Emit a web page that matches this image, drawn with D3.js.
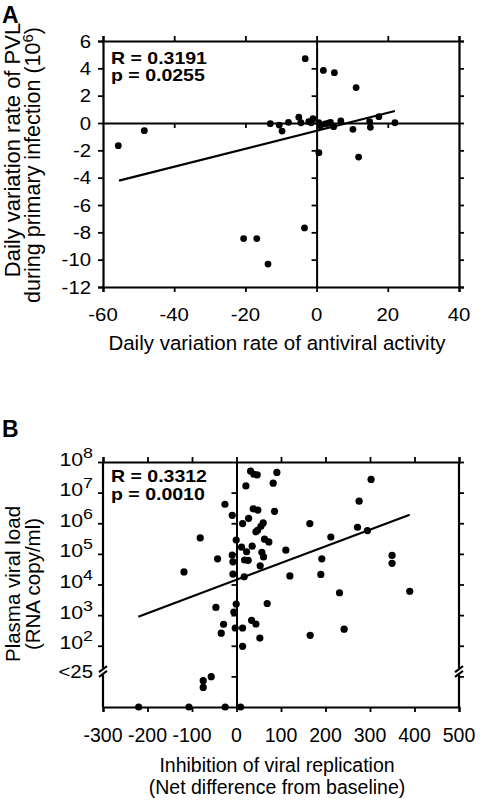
<!DOCTYPE html>
<html><head><meta charset="utf-8">
<script src="https://cdn.jsdelivr.net/npm/d3@7"></script>
<style>
body{margin:0;background:#fff}
svg{display:block}
text{font-family:"Liberation Sans",Arial,Helvetica,sans-serif;fill:#000}
</style></head>
<body><svg id="c" width="480" height="801"></svg>
<script>
// ---------- Panel A data ----------
const aXTicks = [-60, -40, -20, 0, 20, 40];
const aYTicks = [-12, -10, -8, -6, -4, -2, 0, 2, 4, 6];
const aX = [-55.7, -48.4, -3.2, 1.9, 5.0, 11.1, 0.65, 11.8, 17.5, 22.0, 10.2, 15.1,
  -13.0, -10.5, -9.7, -7.9, -5.0, -4.4, -2.2, -1.0, -1.5, 0.6, 1.1, 2.4, 3.3, 3.9, 4.8, 6.8, 14.9,
  -20.5, -16.8, -13.65, -3.4];
const aY = [-1.66, -0.56, 4.71, 3.85, 3.68, 2.59, -2.17, -2.49, 0.46, 0.02, -0.46, -0.32,
  -0.05, -0.15, -0.59, 0.05, 0.42, 0.02, 0.10, 0.32, 0.02, 0.02, -0.20, -0.07, -0.02, 0.05, -0.27, 0.15, 0.10,
  -8.46, -8.46, -10.32, -7.68];
const aFitX = [-55.5, 22.0];
const aFitY = [-4.22, 0.88];
const aStats = ["R = 0.3191", "p = 0.0255"];

// ---------- Panel B data ----------
const bXTicks = [-300, -200, -100, 0, 100, 200, 300, 400, 500];
// y = log10(RNA copies/ml); values below 2 sit in the "<25" band
const bYTicks = [2, 3, 4, 5, 6, 7, 8];
const bYLabelsExp = ["2", "3", "4", "5", "6", "7", "8"];
const bX = [31.7, 39, 46.5, 90.7, 82.4, 21.1, 302.4, -26, -9.6, 37.5, 48, 85.5, 275.5, 27.2,
  13.7, 60, 54.8, 47.4, 43.6, 164.8, 271.9, 294.3, -81.5, -0.7, 63, 72.7, 212, 11.4, 35.3,
  110.9, 22.7, 57, 60.8, -9.6, 18.2, 26.3, -42.5, 191.7, 349.6, 349.6, 53.2, -8, -8, 17.3,
  119.9, 189.5, -118, 231.5, 389.3, -46.3, -0.7, 69, -5.8, -29, -34.3, -2.9, 13.7, 33.9,
  43.6, 13.7, 52.5, 165.5, 241.8, -56.8, -74.8, -74.8, -219.8, -106.9, -25.4, 9.2];
const bY = [7.70, 7.60, 7.58, 7.66, 7.31, 7.22, 7.43, 6.62, 6.26, 6.47, 6.43, 6.39, 6.72, 6.16,
  5.99, 6.01, 5.90, 5.77, 5.72, 5.99, 5.87, 5.76, 5.52, 5.45, 5.48, 5.39, 5.55, 5.22, 5.25,
  5.12, 5.07, 5.05, 4.90, 4.96, 4.80, 4.79, 4.84, 4.84, 4.95, 4.69, 4.61, 4.74, 4.34, 4.25,
  4.28, 4.33, 4.41, 3.73, 3.78, 3.25, 3.36, 3.38, 3.10, 2.70, 2.41, 2.58, 2.58, 2.83,
  2.71, 1.98, 2.25, 2.34, 2.54, 0.99, 0.86, 0.64, 0, 0, 0, 0];
const bFitX = [-220.7, 389.3];
const bFitY = [2.95, 6.28];
const bStats = ["R = 0.3312", "p = 0.0010"];

// ---------- drawing ----------
const svg = d3.select("#c");
svg.append("rect").attr("width", 480).attr("height", 801).attr("fill", "#fff");

const L = 103, R = 459;
const ax = d3.scaleLinear().domain([-60, 40]).range([L, R]);
const ay = d3.scaleLinear().domain([-12, 6]).range([287, 41]);
const bx = d3.scaleLinear().domain([-300, 500]).range([L, R]);
const by = d3.scaleLinear().domain([0, 8]).range([707, 462]);

function styleAxis(g, domainW) {
  g.selectAll(".domain").attr("stroke", "#000").attr("stroke-width", domainW);
  g.selectAll(".tick line").attr("stroke", "#000").attr("stroke-width", 1.8);
  g.selectAll(".tick text").remove();
}
function stretchText(parent, x, y, str, size, sx, anchor, weight) {
  return parent.append("text")
    .attr("transform", `translate(${x},${y}) scale(${sx},1)`)
    .attr("text-anchor", anchor).attr("font-size", size)
    .attr("font-weight", weight || "normal").text(str);
}

// ===== Panel A =====
const A = svg.append("g");
A.append("g").attr("transform", `translate(${L},0)`)
  .call(d3.axisLeft(ay).tickValues(aYTicks).tickSize(5).tickSizeOuter(5)).call(g => styleAxis(g, 2.2));
A.append("g").attr("transform", `translate(${R},0)`)
  .call(d3.axisRight(ay).tickValues(aYTicks).tickSize(5).tickSizeOuter(5)).call(g => styleAxis(g, 2.2));
A.append("g").attr("transform", `translate(0,${ay(-12)})`)
  .call(d3.axisBottom(ax).tickValues(aXTicks).tickSize(5).tickSizeOuter(5)).call(g => styleAxis(g, 2.2));
A.append("g").attr("transform", `translate(0,${ay(6)})`)
  .call(d3.axisTop(ax).tickValues(aXTicks).tickSize(5).tickSizeOuter(5)).call(g => styleAxis(g, 2.2));
// zero lines
A.append("g").attr("transform", `translate(0,${ay(0)})`)
  .call(d3.axisBottom(ax).tickValues(aXTicks.slice(1, -1).filter(d => d !== 0)).tickSize(5).tickSizeOuter(0))
  .call(g => styleAxis(g, 2));
A.append("g").attr("transform", `translate(${ax(0)},0)`)
  .call(d3.axisLeft(ay).tickValues(aYTicks.slice(1, -1).filter(d => d !== 0)).tickSize(5).tickSizeOuter(0))
  .call(g => styleAxis(g, 2));

aYTicks.forEach(t => stretchText(A, 91, ay(t) + 6.5, String(t), 18.5, 1.1, "end"));
aXTicks.forEach(t => stretchText(A, ax(t), 320.5, String(t), 18.5, 1.1, "middle"));

A.append("line").attr("x1", ax(aFitX[0])).attr("y1", ay(aFitY[0]))
  .attr("x2", ax(aFitX[1])).attr("y2", ay(aFitY[1]))
  .attr("stroke", "#000").attr("stroke-width", 2.2);
A.selectAll("circle").data(aX).join("circle")
  .attr("cx", d => ax(d)).attr("cy", (d, i) => ay(aY[i])).attr("r", 3.4).attr("fill", "#000");

stretchText(A, 111, 63.5, aStats[0], 16, 1.22, "start", "bold");
stretchText(A, 111, 80.5, aStats[1], 16, 1.22, "start", "bold");

A.append("text").attr("x", 2).attr("y", 23).attr("font-size", 23).attr("font-weight", "bold").text("A");
A.append("text").attr("x", 277).attr("y", 350).attr("text-anchor", "middle").attr("font-size", 20.5)
  .text("Daily variation rate of antiviral activity");
A.append("text").attr("transform", "translate(20,150) rotate(-90)").attr("text-anchor", "middle")
  .attr("font-size", 22).text("Daily variation rate of PVL");
const aT2 = A.append("text").attr("transform", "translate(40,165) rotate(-90)").attr("text-anchor", "middle")
  .attr("font-size", 21.5);
aT2.append("tspan").text("during primary infection (10");
aT2.append("tspan").attr("dy", -7).attr("font-size", 15).text("6");
aT2.append("tspan").attr("dy", 7).text(")");

// ===== Panel B =====
const B = svg.append("g");
const brk = [1.05, 1.27]; // axis break band (data units)
function brokenAxisLine(x) {
  B.append("line").attr("x1", x).attr("x2", x).attr("y1", by(0)).attr("y2", by(brk[0]))
    .attr("stroke", "#000").attr("stroke-width", 2.2);
  B.append("line").attr("x1", x).attr("x2", x).attr("y1", by(brk[1])).attr("y2", by(8))
    .attr("stroke", "#000").attr("stroke-width", 2.2);
  [by(brk[0]) - 1, by(brk[1]) + 1].forEach(yy => {
    B.append("line").attr("x1", x - 4).attr("y1", yy + 3).attr("x2", x + 4).attr("y2", yy - 3)
      .attr("stroke", "#000").attr("stroke-width", 2);
  });
}
B.append("g").attr("transform", `translate(${L},0)`)
  .call(d3.axisLeft(by).tickValues(bYTicks).tickSize(5).tickSizeOuter(0))
  .call(g => { styleAxis(g, 0); g.select(".domain").remove(); });
B.append("g").attr("transform", `translate(${R},0)`)
  .call(d3.axisRight(by).tickValues([1].concat(bYTicks)).tickSize(5).tickSizeOuter(0))
  .call(g => { styleAxis(g, 0); g.select(".domain").remove(); });
brokenAxisLine(L);
brokenAxisLine(R);
B.append("g").attr("transform", `translate(0,${by(0)})`)
  .call(d3.axisBottom(bx).tickValues(bXTicks).tickSize(5).tickSizeOuter(5)).call(g => styleAxis(g, 2.2));
B.append("g").attr("transform", `translate(0,${by(8)})`)
  .call(d3.axisTop(bx).tickValues(bXTicks).tickSize(5).tickSizeOuter(5)).call(g => styleAxis(g, 2.2));
B.append("g").attr("transform", `translate(${bx(0)},0)`)
  .call(d3.axisLeft(by).tickValues([1, 2, 3, 4, 5, 6, 7]).tickSize(5).tickSizeOuter(0))
  .call(g => styleAxis(g, 2));

bYTicks.forEach((t, i) => {
  const tx = B.append("text").attr("transform", `translate(93,${by(t) + 3.5}) scale(1.15,1)`)
    .attr("text-anchor", "end").attr("font-size", 18.5);
  tx.append("tspan").text("10");
  tx.append("tspan").attr("dy", -8).attr("font-size", 15.5).text(bYLabelsExp[i]);
});
stretchText(B, 93, by(1.0) + 1.5, "<25", 18.5, 1.1, "end");
bXTicks.forEach(t => B.append("text").attr("x", bx(t)).attr("y", 742).attr("text-anchor", "middle")
  .attr("font-size", 19.5).text(String(t)));

B.append("line").attr("x1", bx(bFitX[0])).attr("y1", by(bFitY[0]))
  .attr("x2", bx(bFitX[1])).attr("y2", by(bFitY[1]))
  .attr("stroke", "#000").attr("stroke-width", 2.2);
B.selectAll("circle").data(bX).join("circle")
  .attr("cx", d => bx(d)).attr("cy", (d, i) => by(bY[i])).attr("r", 3.6).attr("fill", "#000");

stretchText(B, 111, 482, bStats[0], 16, 1.22, "start", "bold");
stretchText(B, 111, 499.5, bStats[1], 16, 1.22, "start", "bold");

B.append("text").attr("x", 2).attr("y", 437).attr("font-size", 23).attr("font-weight", "bold").text("B");
B.append("text").attr("x", 277).attr("y", 772).attr("text-anchor", "middle").attr("font-size", 19.5)
  .text("Inhibition of viral replication");
B.append("text").attr("x", 277).attr("y", 794).attr("text-anchor", "middle").attr("font-size", 19.5)
  .text("(Net difference from baseline)");
B.append("text").attr("transform", "translate(20,584) rotate(-90)").attr("text-anchor", "middle")
  .attr("font-size", 20.5).text("Plasma viral load");
B.append("text").attr("transform", "translate(40,584) rotate(-90)").attr("text-anchor", "middle")
  .attr("font-size", 20.5).text("(RNA copy/ml)");
</script>
</body></html>
